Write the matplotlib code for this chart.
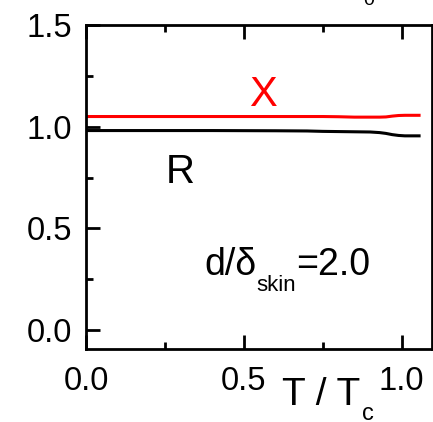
import matplotlib

matplotlib.use("Agg")
import matplotlib.pyplot as plt
from matplotlib.ticker import MultipleLocator

plt.rcParams["font.family"] = ["Liberation Sans", "DejaVu Sans"]

# reduced temperature
t_over_tc = [0.0, 0.2, 0.4, 0.6, 0.7, 0.75, 0.8, 0.85, 0.9, 0.93, 0.95, 0.97, 0.99, 1.01, 1.03, 1.055]
# surface reactance X and resistance R (normalised)
x_vals = [1.050, 1.050, 1.050, 1.050, 1.050, 1.050, 1.049, 1.047, 1.047, 1.047, 1.048, 1.052, 1.055, 1.056, 1.056, 1.056]
r_vals = [0.981, 0.981, 0.981, 0.980, 0.979, 0.977, 0.976, 0.975, 0.974, 0.971, 0.967, 0.961, 0.957, 0.955, 0.955, 0.955]

fig = plt.figure(figsize=(4.33, 4.22), dpi=100)
W, H = 433, 422
ax = fig.add_axes([86 / W, 1 - 349 / H, (432 - 86) / W, (349 - 25) / H])

ax.plot(t_over_tc, x_vals, color="#ff0000", lw=2.2)
ax.plot(t_over_tc, r_vals, color="black", lw=2.2)

ax.set_xlim(0.0, 1.096)
ax.set_ylim(-0.093, 1.5)

ax.xaxis.set_major_locator(MultipleLocator(0.5))
ax.xaxis.set_minor_locator(MultipleLocator(0.25))
ax.yaxis.set_major_locator(MultipleLocator(0.5))
ax.yaxis.set_minor_locator(MultipleLocator(0.25))
ax.xaxis.set_major_formatter(plt.FormatStrFormatter("%.1f"))
ax.yaxis.set_major_formatter(plt.FormatStrFormatter("%.1f"))

for s in ax.spines.values():
    s.set_linewidth(2.0)

ax.tick_params(axis="both", which="both", direction="in", width=2.0, labelsize=23.5)
ax.tick_params(axis="x", which="major", length=10, pad=12)
ax.tick_params(axis="x", which="minor", length=5)
ax.tick_params(axis="y", which="major", length=10, pad=10)
ax.tick_params(axis="y", which="minor", length=5)
ax.tick_params(axis="x", which="both", top=True)
ax.tick_params(axis="x", which="both", labeltop=False)

# curve labels
ax.text(0.56, 1.103, "X", color="#ff0000", fontsize=30, ha="center", va="baseline")
ax.text(0.297, 0.725, "R", color="black", fontsize=29, ha="center", va="baseline")

px = lambda x, y: (x / W, 1 - y / H)

# d/delta_skin = 2.0
fig.text(*px(204, 275), "d/δ", fontsize=27, ha="left", va="baseline")
fig.text(*px(256, 291), "skin", fontsize=16, ha="left", va="baseline")
fig.text(*px(296, 275), "=2.0", fontsize=27, ha="left", va="baseline")

# axis label T / Tc
fig.text(*px(282, 405), "T / T", fontsize=28, ha="left", va="baseline")
fig.text(*px(362, 420), "c", fontsize=17, ha="left", va="baseline")

# fragment of label above the frame
fig.text(*px(369, 5), "0", fontsize=14, ha="center", va="baseline")

fig.savefig("out.png", dpi=100)
